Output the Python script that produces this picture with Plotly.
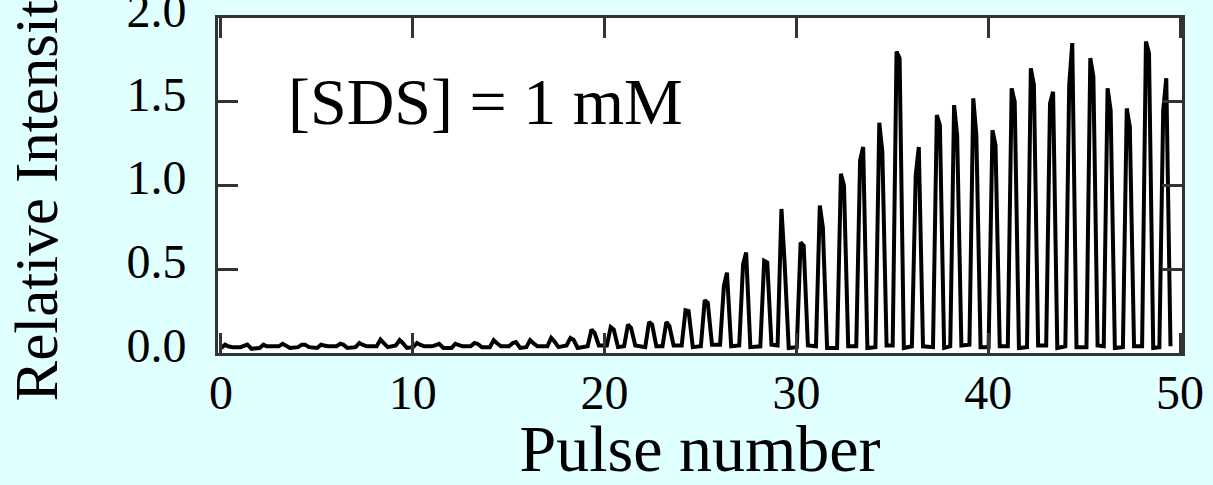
import plotly.graph_objects as go

# Pulse-resolved fluorescence trace, [SDS] = 1 mM
pulse_pos = [0.3, 1.3, 2.3, 3.3, 4.3, 5.3, 6.3, 7.3, 8.4, 9.4,
             10.3, 11.3, 12.3, 13.3, 14.3, 15.3, 16.2, 17.3, 18.3, 19.4,
             20.4, 21.3, 22.4, 23.3, 24.3, 25.3, 26.3, 27.3, 28.4, 29.3,
             30.3, 31.3, 32.4, 33.4, 34.4, 35.3, 36.3, 37.4, 38.3, 39.3,
             40.3, 41.3, 42.3, 43.3, 44.3, 45.4, 46.3, 47.3, 48.3, 49.2]

# intensity at the leading and trailing top of each pulse
peak_lead = [0.050, 0.045, 0.050, 0.055, 0.050, 0.050, 0.055, 0.060, 0.080, 0.077,
             0.060, 0.050, 0.055, 0.060, 0.077, 0.060, 0.077, 0.090, 0.090, 0.140,
             0.155, 0.170, 0.185, 0.185, 0.255, 0.315, 0.400, 0.530, 0.550, 0.860,
             0.660, 0.880, 1.070, 1.150, 1.375, 1.800, 1.060, 1.420, 1.480, 1.520,
             1.330, 1.580, 1.700, 1.490, 1.600, 1.760, 1.580, 1.460, 1.860, 1.450]
peak_trail = [0.040, 0.050, 0.040, 0.045, 0.050, 0.045, 0.050, 0.050, 0.060, 0.060,
              0.050, 0.055, 0.050, 0.055, 0.060, 0.065, 0.060, 0.070, 0.080, 0.120,
              0.140, 0.150, 0.170, 0.160, 0.250, 0.300, 0.480, 0.600, 0.540, 0.550,
              0.640, 0.750, 1.000, 1.230, 1.200, 1.760, 1.230, 1.360, 1.300, 1.300,
              1.240, 1.500, 1.600, 1.560, 1.850, 1.650, 1.450, 1.350, 1.790, 1.640]

# baseline level just before and just after each pulse
valley_pre = [0.030, 0.035, 0.030, 0.040, 0.035, 0.030, 0.040, 0.035, 0.040, 0.045,
              0.035, 0.040, 0.030, 0.040, 0.035, 0.040, 0.035, 0.040, 0.045, 0.040,
              0.045, 0.040, 0.035, 0.040, 0.045, 0.040, 0.050, 0.045, 0.040, 0.045,
              0.035, 0.040, 0.030, 0.040, 0.035, 0.045, 0.040, 0.035, 0.040, 0.050,
              0.035, 0.040, 0.035, 0.045, 0.040, 0.035, 0.040, 0.035, 0.040, 0.035]
valley_post = [0.035, 0.025, 0.040, 0.030, 0.035, 0.040, 0.030, 0.040, 0.035, 0.030,
               0.040, 0.030, 0.040, 0.035, 0.040, 0.030, 0.040, 0.035, 0.030, 0.045,
               0.035, 0.045, 0.040, 0.045, 0.035, 0.050, 0.040, 0.035, 0.050, 0.030,
               0.045, 0.030, 0.040, 0.030, 0.045, 0.030, 0.040, 0.030, 0.045, 0.035,
               0.040, 0.030, 0.045, 0.030, 0.035, 0.045, 0.030, 0.040, 0.030, 0.040]

x_ticks = [0, 10, 20, 30, 40, 50]
y_ticks = [0.0, 0.5, 1.0, 1.5, 2.0]

# assemble the time trace: baseline -> rise -> two top samples -> fall -> baseline
tx, ty = [], []
for p, a, b, v0, v1 in zip(pulse_pos, peak_lead, peak_trail, valley_pre, valley_post):
    tx += [p - 0.28, p - 0.08, p + 0.08, p + 0.30]
    ty += [v0, a, b, v1]

serif = "Liberation Serif, Times New Roman, serif"
axis_col = "#333333"

fig = go.Figure()
fig.add_trace(go.Scatter(x=tx, y=ty, mode="lines",
                         line=dict(color="black", width=4),
                         showlegend=False, hoverinfo="skip"))

fig.add_annotation(x=13.8, y=1.5, xref="x", yref="y", text="[SDS] = 1 mM",
                   showarrow=False, xanchor="center", yanchor="middle",
                   font=dict(family=serif, size=66, color="black"))

axis_common = dict(showline=True, linecolor=axis_col, linewidth=3, mirror="ticks",
                   ticks="inside", ticklen=20, tickwidth=3, tickcolor=axis_col,
                   showgrid=False, zeroline=False, automargin=False,
                   ticklabeloverflow="allow",
                   tickfont=dict(family=serif, size=48, color="black"))

fig.update_xaxes(range=[-0.15, 50.1], tickvals=x_ticks,
                 ticktext=[str(v) for v in x_ticks],
                 ticklabelstandoff=-5,
                 title=dict(text="Pulse number", standoff=19,
                            font=dict(family=serif, size=66, color="black")),
                 **axis_common)
fig.update_yaxes(range=[0.0, 2.0], tickvals=y_ticks,
                 ticktext=[f"{v:.1f}" for v in y_ticks],
                 ticklabelstandoff=19, ticklabelshift=-8,
                 title=dict(text="Relative Intensity", standoff=50,
                            font=dict(family=serif, size=61, color="black")),
                 **axis_common)

fig.update_layout(width=1213, height=485,
                  margin=dict(l=218, r=31, t=18, b=132),
                  paper_bgcolor="#e0ffff", plot_bgcolor="white")

fig.write_html("out.html")
